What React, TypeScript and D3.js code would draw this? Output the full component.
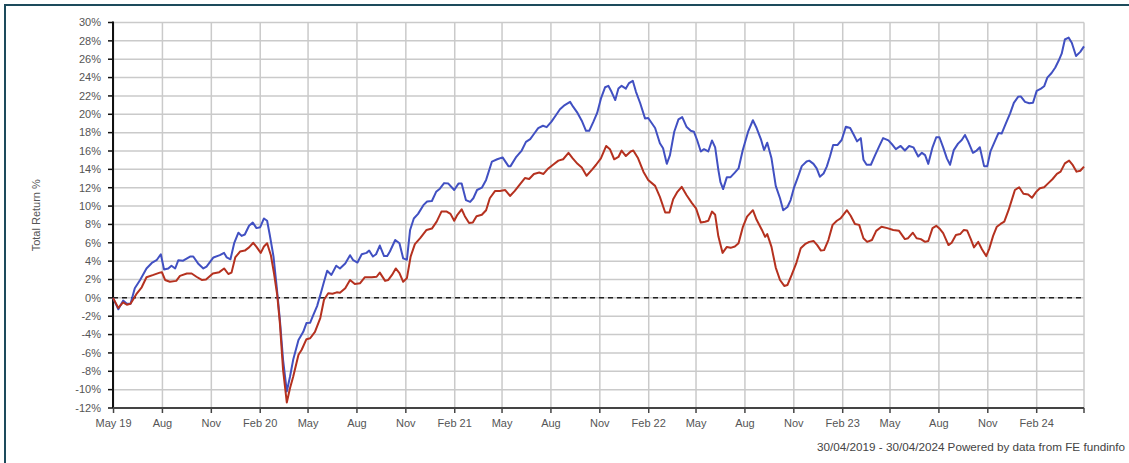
import * as d3 from "d3";

// total return %; x = days after 30/04/2019
const fundDays = [0, 10, 19, 26, 33, 41, 51, 63, 73, 82, 90, 96, 104, 110, 117, 123, 132, 145, 151, 160, 170, 176, 189, 201, 209, 214, 221, 228, 236, 242, 248, 256, 263, 270, 277, 284, 290, 295, 302, 308, 314, 320, 327, 333, 339, 349, 358, 364, 371, 377, 384, 391, 397, 403, 411, 420, 427, 437, 446, 452, 460, 468, 477, 482, 489, 495, 502, 510, 516, 521, 531, 539, 546, 553, 559, 566, 574, 584, 591, 600, 608, 615, 623, 631, 642, 650, 656, 664, 672, 678, 685, 694, 702, 713, 723, 733, 744, 748, 758, 769, 777, 785, 792, 800, 809, 816, 825, 834, 841, 850, 860, 866, 874, 882, 890, 896, 904, 911, 918, 926, 932, 938, 945, 951, 957, 965, 971, 978, 984, 992, 1001, 1007, 1020, 1029, 1035, 1042, 1048, 1056, 1064, 1071, 1079, 1087, 1093, 1099, 1106, 1112, 1120, 1127, 1133, 1139, 1143, 1148, 1155, 1162, 1170, 1177, 1185, 1195, 1204, 1211, 1219, 1225, 1231, 1239, 1247, 1255, 1261, 1269, 1275, 1281, 1288, 1296, 1305, 1310, 1318, 1324, 1330, 1337, 1343, 1349, 1355, 1363, 1371, 1379, 1387, 1394, 1400, 1407, 1412, 1418, 1426, 1434, 1442, 1449, 1459, 1467, 1473, 1482, 1490, 1498, 1506, 1515, 1522, 1528, 1534, 1542, 1549, 1555, 1562, 1569, 1575, 1582, 1590, 1597, 1603, 1609, 1618, 1625, 1631, 1639, 1645, 1651, 1660, 1666, 1672, 1680, 1688, 1695, 1703, 1708, 1716, 1724, 1731, 1738, 1746, 1752, 1758, 1766, 1773, 1779, 1785, 1791, 1798, 1804, 1812, 1820, 1827];
const fundReturn = [0, -1.25, -0.3, -0.65, -0.65, 1.05, 1.95, 3.2, 3.8, 4.1, 4.75, 3.1, 3.2, 3.5, 3.2, 4.1, 4.05, 4.5, 4.5, 3.75, 3.2, 3.4, 4.4, 4.65, 4.9, 4.4, 4.2, 5.95, 7.1, 6.75, 6.9, 7.85, 8.2, 7.6, 7.7, 8.65, 8.4, 6.85, 4.5, 1.2, -2.4, -6.75, -10.2, -8.6, -6.75, -4.6, -3.7, -2.75, -2.7, -1.85, -0.9, 0.5, 1.75, 2.95, 2.5, 3.5, 3.2, 3.75, 4.65, 4.1, 3.85, 4.75, 4.9, 5.15, 4.5, 4.75, 5.7, 4.55, 4.55, 5.05, 6.3, 5.95, 4.3, 4.15, 7.4, 8.65, 9.15, 10.1, 10.5, 10.55, 11.55, 11.9, 12.5, 12.45, 11.75, 12.45, 12.45, 10.65, 10.45, 10.85, 11.75, 12.0, 12.85, 14.85, 15.1, 15.3, 14.35, 14.35, 15.3, 16.05, 17.0, 17.3, 17.85, 18.5, 18.75, 18.6, 19.2, 19.95, 20.55, 21.0, 21.35, 20.8, 20.15, 19.3, 18.2, 18.2, 19.2, 20.15, 21.7, 22.95, 23.1, 22.45, 21.55, 22.8, 23.1, 22.8, 23.4, 23.65, 22.45, 21.2, 19.55, 19.6, 18.5, 16.85, 16.3, 14.6, 15.55, 18.1, 19.45, 19.7, 18.65, 18.2, 18.1, 17.2, 15.95, 16.2, 15.95, 17.15, 16.4, 13.95, 12.6, 11.85, 13.15, 13.15, 13.65, 14.1, 16.1, 18.1, 19.35, 18.5, 17.3, 16.1, 16.9, 15.2, 12.2, 10.85, 9.55, 9.9, 10.65, 11.95, 13.05, 14.35, 14.85, 14.95, 14.6, 14.1, 13.2, 13.55, 14.3, 15.4, 16.65, 16.65, 17.2, 18.65, 18.5, 17.75, 17.05, 17.4, 15.05, 14.5, 14.5, 15.55, 16.55, 17.4, 17.15, 16.65, 16.2, 16.55, 16.05, 16.55, 16.4, 15.4, 15.8, 15.55, 14.6, 16.4, 17.5, 17.5, 16.4, 15.2, 14.5, 16.1, 16.8, 17.2, 17.75, 17.05, 15.8, 16.05, 16.4, 14.35, 14.35, 15.95, 17.15, 17.95, 17.9, 19.0, 20.1, 21.25, 21.9, 21.95, 21.35, 21.2, 21.25, 22.55, 22.8, 23.05, 24.0, 24.5, 25.1, 25.8, 26.6, 28.15, 28.35, 27.8, 26.35, 26.8, 27.4];

const sectorDays = [0, 10, 19, 26, 33, 45, 54, 63, 76, 88, 92, 98, 107, 119, 126, 139, 148, 157, 167, 175, 188, 200, 209, 217, 223, 230, 239, 248, 256, 264, 270, 278, 284, 290, 297, 303, 309, 314, 320, 327, 333, 339, 349, 355, 364, 371, 380, 390, 397, 405, 413, 421, 427, 437, 446, 455, 465, 474, 487, 496, 502, 512, 518, 525, 532, 539, 546, 553, 560, 568, 578, 590, 600, 609, 618, 628, 635, 642, 648, 656, 662, 670, 677, 684, 694, 702, 709, 719, 728, 738, 747, 756, 766, 775, 783, 792, 802, 810, 819, 828, 838, 847, 857, 865, 874, 882, 891, 901, 909, 918, 928, 935, 943, 951, 957, 965, 974, 979, 988, 998, 1007, 1020, 1029, 1039, 1047, 1054, 1062, 1070, 1079, 1089, 1097, 1106, 1114, 1120, 1127, 1133, 1139, 1147, 1155, 1162, 1170, 1177, 1185, 1193, 1204, 1211, 1221, 1227, 1231, 1239, 1247, 1255, 1263, 1269, 1277, 1286, 1294, 1302, 1310, 1318, 1325, 1332, 1338, 1346, 1354, 1362, 1369, 1381, 1388, 1396, 1404, 1412, 1419, 1428, 1436, 1446, 1457, 1468, 1479, 1490, 1496, 1505, 1512, 1520, 1528, 1534, 1542, 1549, 1556, 1562, 1572, 1578, 1586, 1594, 1601, 1607, 1614, 1620, 1628, 1635, 1643, 1649, 1656, 1663, 1670, 1677, 1685, 1691, 1697, 1705, 1713, 1722, 1729, 1737, 1744, 1752, 1760, 1768, 1776, 1783, 1791, 1799, 1806, 1813, 1820, 1827];
const sectorReturn = [0, -1.1, -0.5, -0.75, -0.65, 0.5, 1.15, 2.25, 2.5, 2.75, 2.8, 1.95, 1.75, 1.85, 2.4, 2.65, 2.65, 2.3, 1.95, 2.0, 2.65, 2.8, 3.2, 2.6, 2.75, 4.4, 5.05, 5.15, 5.5, 6.0, 5.55, 4.9, 5.6, 5.95, 4.65, 2.65, 0.3, -2.75, -7.85, -11.4, -9.85, -8.6, -6.2, -5.65, -4.5, -4.4, -3.7, -2.2, -0.2, 0.5, 0.45, 0.6, 0.55, 1.05, 1.95, 1.5, 1.6, 2.25, 2.25, 2.3, 2.75, 1.85, 1.95, 2.5, 3.2, 2.7, 1.75, 2.15, 4.5, 5.85, 6.5, 7.4, 7.55, 8.3, 9.4, 9.4, 9.15, 8.4, 9.05, 9.65, 8.9, 8.15, 8.2, 8.9, 9.05, 9.55, 10.85, 11.65, 11.65, 11.75, 11.1, 11.65, 12.4, 13.05, 12.95, 13.5, 13.65, 13.5, 14.1, 14.5, 14.95, 15.1, 15.8, 15.2, 14.6, 14.2, 13.3, 13.95, 14.5, 15.2, 16.55, 16.2, 15.1, 15.35, 16.05, 15.45, 15.95, 16.05, 15.2, 13.75, 12.85, 12.2, 11.0, 9.3, 9.3, 10.75, 11.55, 12.1, 11.2, 10.35, 9.75, 8.2, 8.3, 8.4, 9.4, 9.05, 6.7, 4.9, 5.55, 5.45, 5.6, 5.95, 7.7, 8.85, 9.55, 8.5, 7.4, 6.65, 6.95, 5.55, 3.3, 1.95, 1.3, 1.4, 2.5, 3.85, 5.4, 5.85, 6.1, 6.2, 5.75, 5.15, 5.2, 6.3, 7.95, 8.4, 8.65, 9.55, 8.95, 8.05, 7.95, 6.5, 6.1, 6.3, 7.3, 7.75, 7.6, 7.4, 7.3, 6.4, 6.5, 7.1, 6.5, 6.4, 6.1, 6.2, 7.6, 7.85, 7.5, 7.05, 5.75, 6.0, 6.85, 6.95, 7.4, 7.35, 6.4, 5.5, 6.1, 5.3, 4.55, 5.4, 6.75, 7.75, 8.05, 8.3, 9.55, 10.65, 11.75, 12.05, 11.35, 11.25, 10.9, 11.55, 11.95, 12.05, 12.5, 12.95, 13.5, 13.75, 14.65, 14.95, 14.45, 13.75, 13.85, 14.3];

const yTicks = [-12, -10, -8, -6, -4, -2, 0, 2, 4, 6, 8, 10, 12, 14, 16, 18, 20, 22, 24, 26, 28, 30];
const xTickLabels = ["May 19", "Aug", "Nov", "Feb 20", "May", "Aug", "Nov", "Feb 21", "May", "Aug", "Nov", "Feb 22", "May", "Aug", "Nov", "Feb 23", "May", "Aug", "Nov", "Feb 24"];

const START = new Date(2019, 3, 30);
const END = new Date(2024, 3, 30);
const FONT = "'Liberation Sans', Arial, sans-serif";

export default function App() {
  const width = 1129, height = 463;
  const left = 113, right = 1084, top = 22.5, bottom = 408;

  const x = d3.scaleTime().domain([START, END]).range([left, right]);
  const y = d3.scaleLinear().domain([-12, 30]).range([bottom, top]);
  const xTicks = d3.timeMonths(new Date(2019, 4, 1), END, 3);

  const toPoints = (days: number[], vals: number[]) =>
    days.map((d, i) => [d3.timeDay.offset(START, d), vals[i]] as [Date, number]);
  const line = d3.line<[Date, number]>().x(d => x(d[0])).y(d => y(d[1]));

  const fundPath = line(toPoints(fundDays, fundReturn)) || "";
  const sectorPath = line(toPoints(sectorDays, sectorReturn)) || "";

  return (
    <svg width={width} height={height} style={{ position: "absolute", left: 0, top: 0, background: "#fff" }} fontFamily={FONT}>
      <rect x={5} y={5} width={width + 20} height={height + 20} fill="none" stroke="#1d4b5c" strokeWidth={2} />

      {/* grid */}
      {yTicks.map(t => (
        <line key={"gy" + t} x1={left} x2={right} y1={y(t)} y2={y(t)} stroke="#cacaca" strokeWidth={1.5} />
      ))}
      {xTicks.map((t, i) => (
        <line key={"gx" + i} x1={x(t)} x2={x(t)} y1={top} y2={bottom} stroke="#cacaca" strokeWidth={1.5} />
      ))}
      <line x1={right} x2={right} y1={top} y2={bottom} stroke="#cacaca" strokeWidth={1.5} />

      <line x1={left} x2={right} y1={y(0)} y2={y(0)} stroke="#222" strokeWidth={1.5} strokeDasharray="5,4" />

      {/* y axis */}
      <line x1={left} x2={left} y1={top - 1} y2={bottom} stroke="#111" strokeWidth={2} />
      {yTicks.map(t => (
        <g key={"ty" + t}>
          <line x1={left - 5} x2={left} y1={y(t)} y2={y(t)} stroke="#111" strokeWidth={1.5} />
          <text x={left - 12} y={y(t)} dy="0.35em" textAnchor="end" fontSize={11} fill="#555">{t}%</text>
        </g>
      ))}

      {/* x axis */}
      <line x1={left} x2={right} y1={bottom} y2={bottom} stroke="#444" strokeWidth={2} />
      {xTicks.map((t, i) => (
        <g key={"tx" + i}>
          <line x1={x(t)} x2={x(t)} y1={bottom} y2={bottom + 5} stroke="#444" strokeWidth={1.5} />
          <text x={x(t)} y={bottom + 19} textAnchor="middle" fontSize={11} fill="#555">{xTickLabels[i]}</text>
        </g>
      ))}
      <line x1={right} x2={right} y1={bottom} y2={bottom + 5} stroke="#444" strokeWidth={1.5} />

      <text transform={`translate(40,${(top + bottom) / 2}) rotate(-90)`} textAnchor="middle" fontSize={11} fill="#555">Total Return %</text>

      <path d={fundPath} fill="none" stroke="#4150c2" strokeWidth={2} strokeLinejoin="round" />
      <path d={sectorPath} fill="none" stroke="#b5311f" strokeWidth={2} strokeLinejoin="round" />

      <text x={817} y={451} fontSize={11.7} fill="#444">30/04/2019 - 30/04/2024 Powered by data from FE fundinfo</text>
    </svg>
  );
}
